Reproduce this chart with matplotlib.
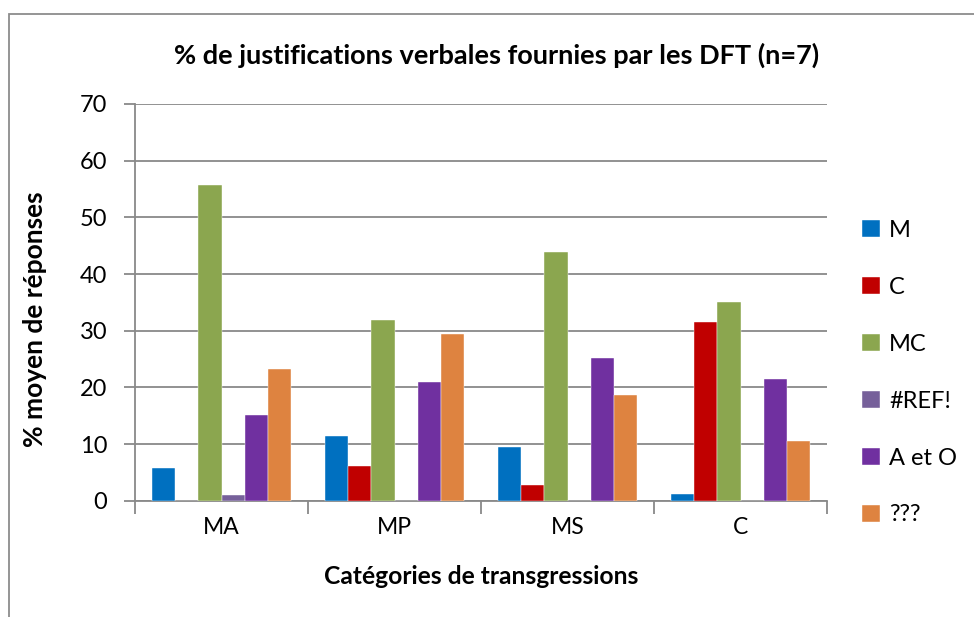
"""Bar chart: % de justifications verbales fournies par les DFT (n=7)."""

import matplotlib.pyplot as plt
import numpy as np
from matplotlib.patches import Rectangle

plt.rcParams["font.family"] = ["Lato", "DejaVu Sans"]

categories = ["MA", "MP", "MS", "C"]
series_names = ["M", "C", "MC", "#REF!", "A et O", "???"]
m_vals = [5.7, 11.4, 9.5, 1.2]
c_vals = [0.0, 6.1, 2.8, 31.5]
mc_vals = [55.7, 31.9, 43.8, 35.0]
ref_vals = [1.0, 0.0, 0.0, 0.0]
aeto_vals = [15.2, 20.9, 25.2, 21.5]
qqq_vals = [23.3, 29.5, 18.6, 10.6]
colors = ["#0070C0", "#C00000", "#8BA64F", "#76609A", "#7030A0", "#DE8340"]

GRID = "#898989"
W, H = 974, 617

fig = plt.figure(figsize=(W / 100, H / 100), dpi=100)
ax = fig.add_axes([135 / W, 1 - 500.7 / H, (827 - 135) / W, (500.7 - 104) / H])

# outer chart border (Excel chart area)
fig.patches.append(
    Rectangle((9 / W, -0.1), 1.2, 1.1 - 14 / H, transform=fig.transFigure,
              fill=False, edgecolor="#8C8C8C", lw=1.3, zorder=0)
)

all_vals = [m_vals, c_vals, mc_vals, ref_vals, aeto_vals, qqq_vals]
x = np.arange(len(categories))
bw = 1.0 / 7.5  # gap width 150 %
for i, (vals, name, col) in enumerate(zip(all_vals, series_names, colors)):
    pos = x - 0.5 + 0.75 * bw + (i + 0.5) * bw
    ax.bar(pos, vals, width=bw, color=col, label=name, zorder=3,
           edgecolor="white", linewidth=0.3)

ax.set_xlim(-0.5, len(categories) - 0.5)
ax.set_ylim(0, 70)
ax.set_yticks(np.arange(0, 71, 10))
ax.yaxis.grid(True, color=GRID, lw=1.3, zorder=0)
ax.set_axisbelow(True)

ax.set_xticks(x)
ax.set_xticklabels(categories, fontsize=16.5)
ax.tick_params(axis="x", length=0, pad=12)
ax.set_xticks(np.arange(-0.5, len(categories)), minor=True)
ax.tick_params(axis="x", which="minor", length=9, color=GRID, width=1.3)
ax.tick_params(axis="y", length=8, color=GRID, width=1.3, labelsize=17, pad=12)

for side in ["top", "right"]:
    ax.spines[side].set_visible(False)
for side in ["left", "bottom"]:
    ax.spines[side].set_color(GRID)
    ax.spines[side].set_linewidth(1.3)

fig.text(497 / W, 1 - 55 / H, "% de justifications verbales fournies par les DFT (n=7)",
         ha="center", va="center", fontsize=19.5, fontweight="bold")
fig.text(481 / W, 1 - 577 / H, "Catégories de transgressions",
         ha="center", va="center", fontsize=17.7, fontweight="bold")
fig.text(35 / W, 1 - 319 / H, "% moyen de réponses", rotation=90,
         ha="center", va="center", fontsize=19, fontweight="bold")

ax.legend(loc="upper left", bbox_to_anchor=(862 / W, 1 - 220 / H),
          bbox_transform=fig.transFigure, frameon=False, fontsize=17,
          handlelength=0.75, handleheight=0.75, handletextpad=0.4,
          labelspacing=1.52, borderaxespad=0, borderpad=0)

fig.savefig("out.png", dpi=100, facecolor="white")
